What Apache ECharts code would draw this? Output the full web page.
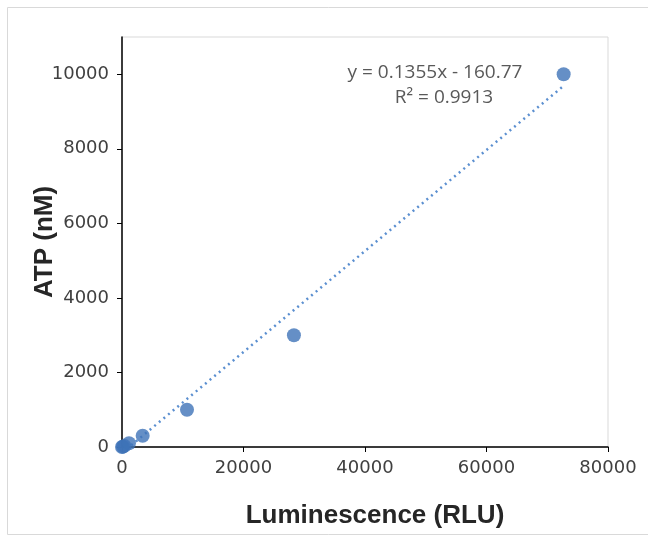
<!DOCTYPE html>
<html>
<head>
<meta charset="utf-8">
<script src="https://cdn.jsdelivr.net/npm/echarts@6/dist/echarts.min.js"></script>
<style>
  html, body { margin: 0; padding: 0; background: #fff; }
  #chart { width: 648px; height: 537px; }
</style>
</head>
<body>
<div id="chart"></div>
<script>
// standards: luminescence reading vs ATP concentration
const luminescence = [0, 150, 400, 1150, 3400, 10700, 28300, 72700];
const atp = [0, 10, 30, 100, 300, 1000, 3000, 10000];

// trendline shown on the chart
const slope = 0.1355;
const intercept = -160.77;
const trendX = [0, 72700];

const xTicks = [0, 20000, 40000, 60000, 80000];
const yTicks = [0, 2000, 4000, 6000, 8000, 10000];

const blue = "#3f73b8";
const tickFont = { fontFamily: "DejaVu Sans", fontSize: 18, color: "#404040" };
const nameFont = {
  fontFamily: "Liberation Sans",
  fontWeight: "bold",
  fontSize: 26,
  color: "#262626",
};

const chart = echarts.init(document.getElementById("chart"));

const option = {
  animation: false,
  grid: {
    left: 122,
    right: 40,
    top: 37,
    bottom: 90,
    show: true,
    borderColor: "#d9d9d9",
    borderWidth: 1,
  },
  graphic: [
    {
      type: "rect",
      shape: { x: 7.5, y: 7.5, width: 700, height: 527 },
      style: { fill: "none", stroke: "#d9d9d9", lineWidth: 1 },
      silent: true,
    },
    {
      type: "text",
      x: 435,
      y: 63,
      style: {
        text: "y = 0.1355x - 160.77",
        font: "19px 'Open Sans'",
        fill: "#595959",
        align: "center",
      },
    },
    {
      type: "text",
      x: 444,
      y: 88,
      style: {
        text: "R\u00b2 = 0.9913",
        font: "19px 'Open Sans'",
        fill: "#595959",
        align: "center",
      },
    },
  ],
  xAxis: {
    type: "value",
    min: 0,
    max: 80000,
    interval: 20000,
    name: "Luminescence (RLU)",
    nameLocation: "middle",
    nameGap: 56,
    nameMoveOverlap: false,
    nameTextStyle: { ...nameFont, padding: [0, 0, 0, 20] },
    axisLine: { show: true, lineStyle: { color: "#000", width: 1.5 } },
    axisTick: { show: true, length: 5, lineStyle: { color: "#000" }, customValues: xTicks },
    axisLabel: { ...tickFont, margin: 12, customValues: xTicks, formatter: (v) => String(v) },
    splitLine: { show: false },
  },
  yAxis: {
    type: "value",
    min: 0,
    max: 11000,
    interval: 2000,
    name: "ATP (nM)",
    nameLocation: "middle",
    nameGap: 64,
    nameMoveOverlap: false,
    nameTextStyle: nameFont,
    axisLine: { show: true, lineStyle: { color: "#000", width: 1.5 } },
    axisTick: { show: true, length: 5, lineStyle: { color: "#000" }, customValues: yTicks },
    axisLabel: { ...tickFont, margin: 13, customValues: yTicks, formatter: (v) => String(v) },
    splitLine: { show: false },
  },
  series: [
    {
      name: "Trend",
      type: "line",
      data: trendX.map((x) => [x, slope * x + intercept]),
      showSymbol: false,
      clip: true,
      lineStyle: { color: "#5b8fd0", width: 2.5, type: [2, 4] },
      z: 2,
    },
    {
      name: "ATP",
      type: "scatter",
      data: luminescence.map((x, i) => [x, atp[i]]),
      symbol: "circle",
      symbolSize: 14,
      itemStyle: { color: blue },
      z: 3,
    },
  ],
};

chart.setOption(option);
</script>
</body>
</html>
